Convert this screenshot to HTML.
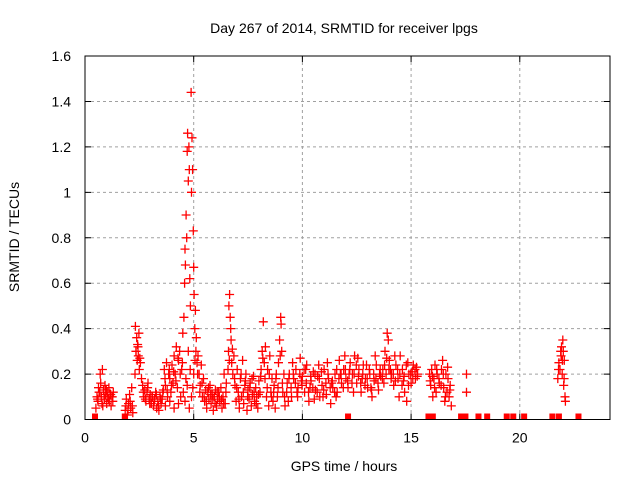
<!DOCTYPE html>
<html><head><meta charset="utf-8"><style>
html,body{margin:0;padding:0;background:#fff}
svg{display:block;font-family:"Liberation Sans",sans-serif}
</style></head><body>
<svg id="chart" width="640" height="480" viewBox="0 0 640 480">
<rect width="640" height="480" fill="#fff"/>
<text x="344" y="33" font-size="14" text-anchor="middle" fill="#000">Day 267 of 2014, SRMTID for receiver lpgs</text>
<g id="grid"></g>
<g id="ticks"></g>
<g id="marks"></g>
<rect x="85" y="56" width="525" height="363.5" fill="none" stroke="#000" stroke-width="1"/>
<text transform="translate(19,237) rotate(-90)" font-size="14" text-anchor="middle">SRMTID / TECUs</text>
<text x="344" y="471" font-size="14" text-anchor="middle">GPS time / hours</text>
</svg>
<script>
const xTicks=[0,5,10,15,20];
const yTicks=[0,0.2,0.4,0.6,0.8,1,1.2,1.4,1.6];
const yTickLabels=["0","0.2","0.4","0.6","0.8","1","1.2","1.4","1.6"];
const hours=[
0.5,0.55,0.6,0.62,0.65,0.7,0.72,0.75,0.8,0.82,0.85,0.9,0.92,0.95,1.0,1.02,1.05,1.1,1.12,1.15,1.2,1.25,1.3,
1.85,1.9,1.95,2.0,2.05,2.1,2.15,2.2,
2.3,2.32,2.35,2.38,2.4,2.42,2.45,2.48,2.5,2.55,2.6,
2.65,2.7,2.75,2.8,2.85,2.9,2.95,3.0,3.05,3.1,3.15,3.2,3.25,3.3,3.35,3.4,3.45,3.5,3.55,3.6,
3.65,3.7,3.75,3.8,3.85,3.9,3.95,4.0,4.05,4.1,4.15,4.2,4.25,4.3,4.35,4.4,4.45,3.7,3.9,4.1,4.3,
4.5,4.55,4.58,4.6,4.62,4.65,4.68,4.7,4.72,4.75,4.78,4.8,4.82,4.85,4.88,4.9,4.92,4.95,4.98,5.0,5.02,5.05,5.08,5.1,5.12,5.15,4.6,4.7,4.8,4.9,5.0,4.75,
5.2,5.25,5.3,5.35,5.4,5.45,5.5,5.55,5.6,5.65,5.7,5.75,5.8,5.85,5.9,5.95,6.0,6.05,6.1,6.15,6.2,6.25,6.3,6.35,6.4,6.45,6.5,
6.6,6.62,6.65,6.68,6.7,6.72,6.75,6.8,6.85,6.9,
6.95,7.0,7.05,7.1,7.15,7.2,7.25,7.3,7.35,7.4,7.45,7.5,7.55,7.6,7.65,7.7,7.75,7.8,7.85,7.9,7.95,8.0,8.05,8.1,
8.15,8.2,8.25,8.3,8.35,8.4,8.45,8.5,8.55,8.6,
8.65,8.7,8.75,8.8,8.85,8.9,8.95,9.0,9.02,9.05,9.1,9.15,9.2,
9.3,9.4,9.5,9.6,9.7,9.8,9.9,10.0,10.1,10.2,10.3,10.4,10.5,10.6,10.7,10.8,10.9,11.0,11.1,11.2,11.3,11.4,11.5,11.6,11.7,11.8,11.9,12.0,12.1,12.2,12.3,12.4,12.5,12.6,12.7,12.8,12.9,13.0,13.1,13.2,13.3,13.4,13.5,13.6,13.7,13.8,13.9,13.95,14.0,14.1,14.2,14.3,14.4,14.5,14.6,14.7,14.8,14.9,15.0,15.1,15.2,15.3,
9.35,9.55,9.75,9.95,10.15,10.35,10.55,10.75,10.95,11.15,11.35,11.55,11.75,11.95,12.15,12.35,12.55,12.75,12.95,13.15,13.35,13.55,13.75,13.85,14.05,14.25,14.45,14.65,14.85,15.05,15.25,
15.85,15.9,15.95,16.0,16.05,16.1,16.15,16.2,16.3,16.4,16.45,16.5,16.55,16.6,16.65,16.7,16.75,16.8,16.85,
17.55,17.55,
21.75,21.8,21.85,21.9,21.92,21.95,21.98,22.0,22.02,22.05,22.08,22.1,
0.58,0.68,0.78,0.88,0.98,1.08,1.18,1.28,1.88,1.98,2.08,2.18,2.34,2.44,2.52,
2.68,2.78,2.88,2.98,3.08,3.18,3.28,3.38,3.48,3.58,3.68,3.78,3.88,3.98,4.08,4.18,4.28,4.38,4.48,
4.52,4.64,4.84,4.96,5.06,5.18,5.28,5.38,5.48,5.58,5.68,5.78,5.88,5.98,6.08,6.18,6.28,6.38,6.48,6.58,
6.64,6.78,6.88,6.98,7.08,7.18,7.28,7.38,7.48,7.58,7.68,7.78,7.88,7.98,8.08,8.18,8.28,8.38,8.48,8.58,8.68,8.78,8.88,8.98,9.08,9.18,
9.28,9.38,9.48,9.58,9.68,9.78,9.88,9.98,10.08,10.18,10.28,10.38,10.48,10.58,10.68,10.78,10.88,10.98,11.08,11.18,11.28,11.38,11.48,11.58,11.68,11.78,11.88,11.98,
12.08,12.18,12.28,12.38,12.48,12.58,12.68,12.78,12.88,12.98,13.08,13.18,13.28,13.38,13.48,13.58,13.68,13.78,13.88,13.98,14.08,14.18,14.28,14.38,14.48,14.58,14.68,14.78,14.88,14.98,15.08,15.18,15.28,
15.88,15.98,16.08,16.18,16.28,16.38,16.48,16.58,16.68,16.78,21.78,21.88,21.96,22.04,
0.46,1.83,12.1,15.8,16.0,17.3,17.4,17.5,18.1,18.5,19.4,19.7,20.2,21.5,21.8,22.7
];
const srmtid=[
0.05,0.1,0.08,0.14,0.12,0.2,0.16,0.1,0.22,0.06,0.13,0.09,0.15,0.11,0.07,0.12,0.1,0.14,0.08,0.11,0.06,0.1,0.12,
0.04,0.09,0.02,0.07,0.11,0.05,0.14,0.03,
0.2,0.41,0.3,0.36,0.26,0.33,0.28,0.38,0.22,0.25,0.18,
0.15,0.1,0.13,0.08,0.12,0.16,0.09,0.11,0.07,0.1,0.06,0.09,0.12,0.05,0.08,0.04,0.1,0.07,0.09,0.13,
0.22,0.15,0.25,0.1,0.2,0.18,0.12,0.24,0.16,0.28,0.2,0.32,0.14,0.26,0.3,0.1,0.22,0.06,0.08,0.05,0.07,
0.38,0.45,0.6,0.75,0.68,0.9,0.8,1.18,1.26,1.05,1.2,1.1,0.62,0.5,1.44,1.0,1.24,1.1,0.83,0.67,0.55,0.4,0.48,0.3,0.36,0.25,0.08,0.15,0.05,0.1,0.2,0.3,
0.28,0.2,0.15,0.24,0.1,0.18,0.08,0.13,0.05,0.12,0.09,0.15,0.07,0.11,0.04,0.1,0.13,0.06,0.09,0.12,0.08,0.14,0.05,0.1,0.2,0.07,0.16,
0.3,0.5,0.55,0.45,0.4,0.35,0.25,0.2,0.28,0.15,
0.08,0.22,0.12,0.05,0.18,0.1,0.26,0.07,0.15,0.2,0.04,0.13,0.09,0.16,0.06,0.11,0.19,0.08,0.14,0.1,0.05,0.17,0.12,0.22,
0.3,0.43,0.25,0.32,0.1,0.22,0.06,0.28,0.12,0.18,
0.08,0.15,0.05,0.2,0.1,0.25,0.35,0.45,0.42,0.3,0.12,0.2,0.06,
0.16,0.2,0.1,0.18,0.22,0.14,0.27,0.19,0.12,0.24,0.08,0.17,0.21,0.13,0.19,0.1,0.15,0.22,0.11,0.18,0.07,0.14,0.2,0.12,0.26,0.16,0.22,0.18,0.14,0.25,0.2,0.28,0.16,0.22,0.12,0.24,0.18,0.14,0.2,0.1,0.17,0.24,0.13,0.19,0.22,0.3,0.38,0.35,0.26,0.2,0.15,0.24,0.18,0.28,0.22,0.12,0.08,0.2,0.16,0.24,0.18,0.2,
0.08,0.25,0.12,0.17,0.22,0.14,0.09,0.24,0.1,0.25,0.16,0.1,0.2,0.28,0.2,0.12,0.27,0.18,0.24,0.14,0.28,0.2,0.16,0.2,0.22,0.28,0.1,0.17,0.25,0.21,0.23,
0.2,0.15,0.22,0.1,0.18,0.24,0.12,0.2,0.16,0.22,0.26,0.14,0.08,0.2,0.12,0.18,0.1,0.15,0.06,
0.2,0.12,
0.18,0.25,0.22,0.28,0.32,0.2,0.35,0.3,0.15,0.26,0.1,0.08,
0.09,0.12,0.07,0.1,0.13,0.09,0.11,0.08,0.06,0.04,0.08,0.06,0.3,0.32,0.27,
0.12,0.09,0.14,0.07,0.1,0.08,0.11,0.06,0.09,0.12,0.18,0.13,0.22,0.15,0.21,0.17,0.27,0.2,0.25,
0.12,0.18,0.22,0.14,0.26,0.2,0.12,0.16,0.1,0.08,0.14,0.11,0.09,0.07,0.12,0.1,0.09,0.07,0.12,0.22,
0.26,0.31,0.18,0.14,0.09,0.2,0.12,0.17,0.1,0.14,0.18,0.12,0.07,0.11,0.19,0.27,0.18,0.14,0.2,0.1,0.12,0.18,0.14,0.28,0.16,0.1,
0.12,0.18,0.14,0.2,0.16,0.1,0.2,0.15,0.22,0.16,0.12,0.19,0.14,0.2,0.12,0.18,0.21,0.13,0.16,0.2,0.14,0.17,0.12,0.22,0.18,0.2,0.14,0.22,
0.17,0.22,0.16,0.2,0.24,0.19,0.16,0.2,0.15,0.18,0.22,0.13,0.2,0.18,0.16,0.22,0.18,0.24,0.27,0.22,0.18,0.2,0.17,0.22,0.2,0.15,0.19,0.24,0.15,0.2,0.18,0.22,0.19,
0.17,0.19,0.14,0.22,0.18,0.15,0.2,0.1,0.23,0.13,0.22,0.3,0.26,0.18,
0,0,0,0,0,0,0,0,0,0,0,0,0,0,0,0
];
const X0=85,X1=610,Y0=419.5,Y1=56;
function xs(t){return X0+(t/24.15)*(X1-X0);}
function ys(v){return Y0-(v/1.6)*(Y0-Y1);}
const NS='http://www.w3.org/2000/svg';
const grid=document.getElementById('grid'),ticks=document.getElementById('ticks'),marks=document.getElementById('marks');
xTicks.forEach(t=>{
  const x=xs(t);
  if(t>0){const g=document.createElementNS(NS,'line');
    
    
    g.setAttribute('x1',x);g.setAttribute('x2',x);g.setAttribute('y1',Y1);g.setAttribute('y2',Y0);
    g.setAttribute('stroke','#a0a0a0');g.setAttribute('stroke-dasharray','3,3');grid.appendChild(g);}
  const tk=document.createElementNS(NS,'path');
  
  
  tk.setAttribute('d',`M${x},${Y0}v-6M${x},${Y1}v6`);tk.setAttribute('stroke','#000');ticks.appendChild(tk);
  const lb=document.createElementNS(NS,'text');
  
  
  lb.setAttribute('x',x);lb.setAttribute('y',Y0+23);lb.setAttribute('font-size','14');lb.setAttribute('text-anchor','middle');
  lb.textContent=String(t);ticks.appendChild(lb);
});
yTicks.forEach((v,i)=>{
  const y=ys(v);
  if(v>0&&v<1.6){const g=document.createElementNS(NS,'line');
    
    
    g.setAttribute('x1',X0);g.setAttribute('x2',X1);g.setAttribute('y1',y);g.setAttribute('y2',y);
    g.setAttribute('stroke','#a0a0a0');g.setAttribute('stroke-dasharray','3,3');grid.appendChild(g);}
  const tk=document.createElementNS(NS,'path');
  
  
  tk.setAttribute('d',`M${X0},${y}h6M${X1},${y}h-6`);tk.setAttribute('stroke','#000');ticks.appendChild(tk);
  const lb=document.createElementNS(NS,'text');
  
  
  lb.setAttribute('x',X0-14);lb.setAttribute('y',y+5);lb.setAttribute('font-size','14');lb.setAttribute('text-anchor','end');
  lb.textContent=yTickLabels[i];ticks.appendChild(lb);
});
const n=Math.min(hours.length,srmtid.length);
let d='';
for(let i=0;i<n;i++){
  const x=xs(hours[i]),y=ys(srmtid[i]);
  if(srmtid[i]===0){
    const r=document.createElementNS(NS,'rect');
    
    
    r.setAttribute('x',x-3);r.setAttribute('y',Y0-6);r.setAttribute('width',6);r.setAttribute('height',6);r.setAttribute('fill','#ff0000');
    marks.appendChild(r);
  } else {
    d+=`M${(x-4.5).toFixed(1)},${y.toFixed(1)}h9M${x.toFixed(1)},${(y-4.5).toFixed(1)}v9`;
  }
}
const p=document.createElementNS(NS,'path');


p.setAttribute('d',d);p.setAttribute('stroke','#ff0000');p.setAttribute('stroke-width','1.3');p.setAttribute('fill','none');
marks.appendChild(p);
</script>
</body></html>
